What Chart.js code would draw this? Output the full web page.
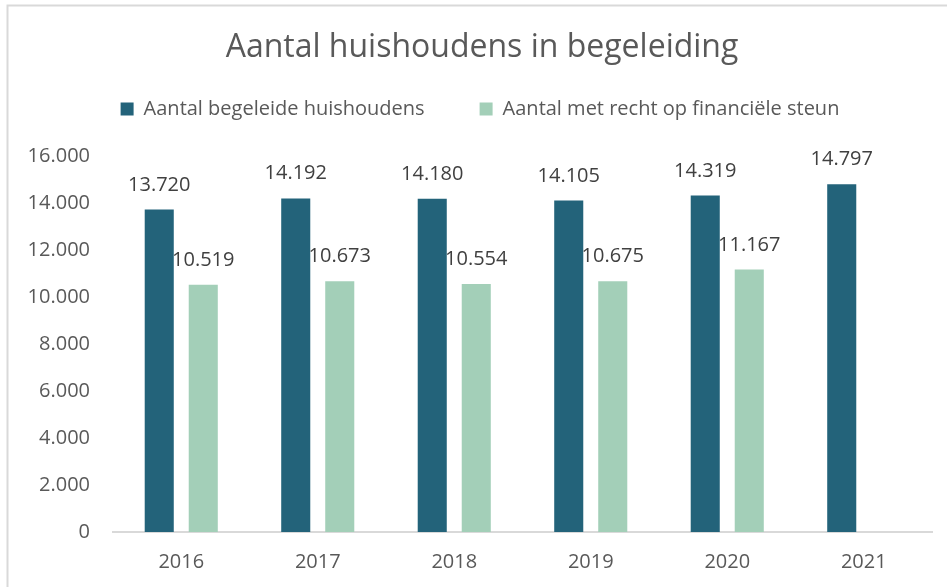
<!DOCTYPE html>
<html>
<head>
<meta charset="utf-8">
<script src="https://cdn.jsdelivr.net/npm/chart.js@4.4.0/dist/chart.umd.min.js"></script>
<style>
  html, body { margin: 0; padding: 0; background: #fff; }
  #wrap { width: 947px; height: 587px; }
</style>
</head>
<body>
<div id="wrap"><canvas id="chart" width="947" height="587"></canvas></div>
<script>
// data
const years = ["2016", "2017", "2018", "2019", "2020", "2021"];
const begeleid = [13720, 14192, 14180, 14105, 14319, 14797];
const financieel = [10519, 10673, 10554, 10675, 11167, null];
const yTicks = [0, 2000, 4000, 6000, 8000, 10000, 12000, 14000, 16000];

const FONT = "'Open Sans', 'Liberation Sans', sans-serif";
const TXT = "#595959";

// 14797 -> "14.797"
const fmt = (v) => String(v).replace(/\B(?=(\d{3})+(?!\d))/g, ".");

// thin grey frame on the left and top, like the pasted chart
const frame = {
  id: "frame",
  beforeDraw(chart) {
    const ctx = chart.ctx;
    ctx.save();
    ctx.fillStyle = "#fff";
    ctx.fillRect(0, 0, chart.width, chart.height);
    ctx.strokeStyle = "#d9d9d9";
    ctx.lineWidth = 2;
    ctx.beginPath();
    ctx.moveTo(7.5, chart.height);
    ctx.lineTo(7.5, 5.5);
    ctx.lineTo(chart.width, 5.5);
    ctx.stroke();
    ctx.restore();
  },
};

// nudge title and legend: wide legend gaps, but legend drawn higher
const headerTweak = {
  id: "headerTweak",
  beforeInit(chart) {
    const lg = chart.legend;
    const fit = lg.fit;
    lg.fit = function () {
      fit.call(lg);
      this.height -= 13;
    };
    lg.draw = function () {
      if (!this.options.display) return;
      const ctx = chart.ctx;
      ctx.save();
      ctx.translate(10, -40);
      this._draw();
      ctx.restore();
    };
    const tb = chart.titleBlock;
    const tdraw = tb.draw;
    tb.draw = function () {
      const ctx = chart.ctx;
      ctx.save();
      ctx.translate(12, 0);
      tdraw.call(tb);
      ctx.restore();
    };
  },
};

// value labels above the bars
const valueLabels = {
  id: "valueLabels",
  afterDatasetsDraw(chart) {
    const ctx = chart.ctx;
    ctx.save();
    ctx.font = "20px " + FONT;
    ctx.fillStyle = "#404040";
    ctx.textAlign = "center";
    ctx.textBaseline = "alphabetic";
    chart.data.datasets.forEach((ds, i) => {
      chart.getDatasetMeta(i).data.forEach((bar, j) => {
        const v = ds.data[j];
        if (v == null) return;
        ctx.fillText(fmt(v), bar.x, bar.y - 19);
      });
    });
    ctx.restore();
  },
};

new Chart(document.getElementById("chart"), {
  type: "bar",
  data: {
    labels: years,
    datasets: [
      {
        label: "Aantal begeleide huishoudens",
        data: begeleid,
        backgroundColor: "#23637A",
        categoryPercentage: 0.645,
        barPercentage: 0.66,
      },
      {
        label: "Aantal met recht op financiële steun",
        data: financieel,
        backgroundColor: "#A3CFB8",
        categoryPercentage: 0.645,
        barPercentage: 0.66,
      },
    ],
  },
  options: {
    responsive: false,
    animation: false,
    layout: { padding: { top: 12, left: 8, right: 15, bottom: 10 } },
    scales: {
      x: {
        afterFit(scale) {
          scale.height -= 15;
        },
        grid: { display: false, drawTicks: false },
        border: { display: true, color: "#d9d9d9", width: 2 },
        ticks: { font: { size: 20, family: FONT }, color: TXT, padding: 18 },
      },
      y: {
        min: 0,
        max: 16000,
        afterBuildTicks(scale) {
          scale.ticks = yTicks.map((v) => ({ value: v }));
        },
        afterFit(scale) {
          scale.width = 105;
        },
        grid: { display: false, drawTicks: false },
        border: { display: false },
        ticks: {
          font: { size: 20, family: FONT },
          color: TXT,
          padding: 23,
          callback: (v) => fmt(v),
        },
      },
    },
    plugins: {
      title: {
        display: true,
        text: "Aantal huishoudens in begeleiding",
        font: { size: 32, family: FONT, weight: "normal" },
        color: TXT,
        padding: { top: 17, bottom: 16.6 },
      },
      legend: {
        labels: {
          font: { size: 20, family: FONT },
          color: TXT,
          boxWidth: 13,
          boxHeight: 13,
          padding: 55,
        },
      },
      tooltip: { enabled: false },
    },
  },
  plugins: [frame, headerTweak, valueLabels],
});
</script>
</body>
</html>
